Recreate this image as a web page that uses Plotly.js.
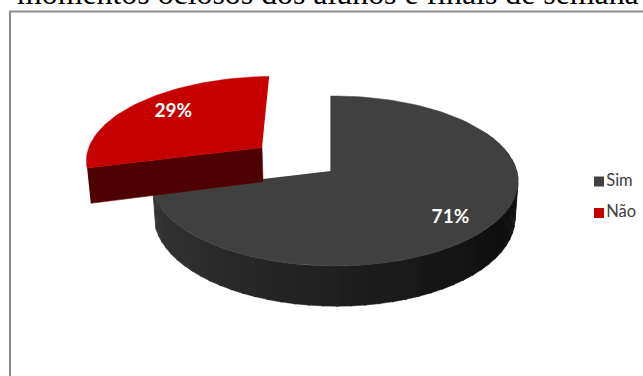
<!DOCTYPE html>
<html>
<head>
<meta charset="utf-8">
<script src="https://cdn.plot.ly/plotly-3.0.1.min.js"></script>
<style>html,body{margin:0;padding:0;background:#fff;overflow:hidden}#chart{width:643px;height:376px}</style>
</head>
<body>
<div id="chart"></div>
<script>
// Answer shares and their colours
const categories = ['Sim', 'Não'];
const shares = [71, 29];
const topColors = ['#404040', '#c60000'];
const wallColor = '#4f0000';
const chartTitle = 'momentos ociosos dos alunos e finais de semana';

// View of the tilted disc: perspective terms, radii and thickness, in pixels
const view = {x0: 331, y0: 171, bx: 182, by: 83.8, kv: 0.1176, ku: 0.02, depth: 35.5};
const explodeBy = 0.5;
const naoRadius = 1.02;
const rad = d => d * Math.PI / 180;

// Map a point on the disc (u right, v back, z down) to plot coordinates
function project(u, v, z) {
  const w = 1 + view.kv * v - view.ku * u;
  const shrink = z ? 0.985 : 1;
  return [view.x0 + shrink * view.bx * u / w, view.y0 + (-view.by * v + z) / w];
}
function rimPoint(deg, z, ou, ov, r) {
  return project(ou + r * Math.sin(rad(deg)), ov + r * Math.cos(rad(deg)), z);
}
function polygon(points, color) {
  return {
    x: points.map(p => p[0]), y: points.map(p => p[1]),
    type: 'scatter', mode: 'lines', fill: 'toself', fillcolor: color,
    line: {width: 0.5, color: color}, hoverinfo: 'skip', showlegend: false
  };
}
function arc(from, to, z, ou, ov, r) {
  const pts = [];
  const steps = Math.max(2, Math.ceil(Math.abs(to - from) / 2));
  for (let i = 0; i <= steps; i++) pts.push(rimPoint(from + (to - from) * i / steps, z, ou, ov, r));
  return pts;
}

// Slice angles, clockwise from the top; "Sim" starts at twelve o'clock
const simSweep = shares[0] / 100 * 360;
const naoMid = simSweep + shares[1] / 100 * 180;
const simMid = simSweep / 2;
const naoOu = explodeBy * Math.sin(rad(naoMid));
const naoOv = explodeBy * Math.cos(rad(naoMid)) - 0.015;

const traces = [];

// Side wall of "Sim", shaded in narrow strips from light at the left to dark at the right
const wallStart = 62, wallStep = 4;
for (let a = wallStart; a < simSweep; a += wallStep) {
  const b = Math.min(a + wallStep + 0.6, simSweep);
  const t = (a - wallStart) / (simSweep - wallStart);
  const g = t < 0.3 ? 28 - t * 45 : 14.5 + (t - 0.3) / 0.7 * 40;
  const c = 'rgb(' + [g, g, g].map(Math.round).join(',') + ')';
  traces.push(polygon(arc(a, b, 0, 0, 0, 1).concat(arc(b, a, view.depth, 0, 0, 1)), c));
}
// Thin cut face below the twelve o'clock edge
traces.push(polygon([project(0, 0, 0), project(0, 1, 0), project(0, 1, view.depth), project(0, 0, view.depth)], '#262626'));
// Top of "Sim"
traces.push(polygon([project(0, 0, 0)].concat(arc(0, simSweep, 0, 0, 0, 1)), topColors[0]));

// Exploded "Não": front cut face, then the top
traces.push(polygon([rimPoint(simSweep, 0, naoOu, naoOv, naoRadius), project(naoOu, naoOv, 0),
  project(naoOu, naoOv, view.depth), rimPoint(simSweep, view.depth * 1.03, naoOu, naoOv, naoRadius)], wallColor));
traces.push(polygon([project(naoOu, naoOv, 0)].concat(arc(simSweep, 360, 0, naoOu, naoOv, naoRadius)), topColors[1]));

// Percentage labels, placed along each slice's middle angle with a small pixel nudge
const labelAt = 0.78;
const simLabel = project(labelAt * Math.sin(rad(simMid)), labelAt * Math.cos(rad(simMid)), 0);
const naoLabel = project(naoOu + labelAt * Math.sin(rad(naoMid)), naoOv + labelAt * Math.cos(rad(naoMid)), 0);
traces.push({
  x: [simLabel[0] - 1, naoLabel[0] + 8], y: [simLabel[1] + 4, naoLabel[1] - 1],
  text: shares.map(v => '<b>' + v + '%</b>'),
  type: 'scatter', mode: 'text', textposition: 'middle center',
  textfont: {family: 'Lato, sans-serif', size: 19, color: '#ffffff'},
  hoverinfo: 'skip', showlegend: false
});

// Key at the right: square swatch and category name
const keyX = 599, keyY = [181.5, 213];
categories.forEach((name, i) => traces.push({
  x: [keyX], y: [keyY[i]], name: name, text: [name],
  type: 'scatter', mode: 'markers+text', textposition: 'middle right',
  textfont: {family: 'Lato, sans-serif', size: 16.5, color: '#404040'},
  marker: {symbol: 'square', size: 10, color: topColors[i]},
  hoverinfo: 'skip', showlegend: false
}));

const layout = {
  width: 643, height: 376,
  margin: {l: 0, r: 0, t: 0, b: 0},
  paper_bgcolor: '#ffffff', plot_bgcolor: '#ffffff',
  title: {
    text: chartTitle, x: 17 / 643, xanchor: 'left', xref: 'paper',
    y: 1 - 4 / 376, yref: 'container', yanchor: 'bottom',
    font: {family: '"Liberation Serif", serif', size: 31.85, color: '#000000'}
  },
  xaxis: {range: [0, 643], visible: false, fixedrange: true},
  yaxis: {range: [376, 0], visible: false, fixedrange: true},
  showlegend: false,
  shapes: [{
    type: 'rect', xref: 'x', yref: 'y', x0: 10, y0: 11.5, x1: 720, y1: 420,
    line: {color: '#8c8c8c', width: 2}, layer: 'below'
  }]
};
Plotly.newPlot('chart', traces, layout, {displayModeBar: false, staticPlot: true});
</script>
</body>
</html>
